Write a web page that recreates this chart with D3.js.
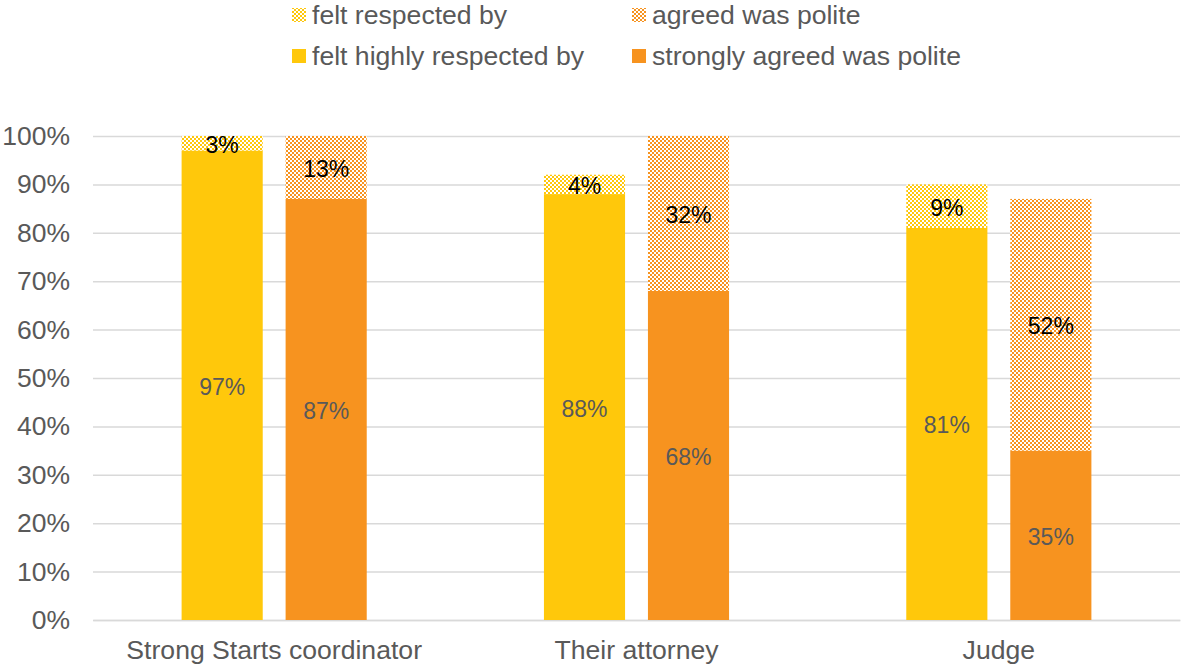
<!DOCTYPE html>
<html>
<head>
<meta charset="utf-8">
<script src="https://cdn.jsdelivr.net/npm/d3@7"></script>
<style>
  html, body { margin: 0; padding: 0; background: #fff; }
  svg { display: block; font-family: "Liberation Sans", Arial, sans-serif; }
</style>
</head>
<body>
<svg id="chart" width="1182" height="667"></svg>
<script>
// Survey results: share of respondents by who they dealt with
const categories = ["Strong Starts coordinator", "Their attorney", "Judge"];
const feltHighlyRespected = [97, 88, 81];
const feltRespected = [3, 4, 9];
const stronglyAgreedPolite = [87, 68, 35];
const agreedPolite = [13, 32, 52];
const yTicks = [0, 10, 20, 30, 40, 50, 60, 70, 80, 90, 100];

const YELLOW = "#FFC80B";
const ORANGE = "#F7931F";
const TEXT = "#595959";
const GRID = "#D9D9D9";

const svg = d3.select("#chart");
const plot = { left: 93, right: 1180, top: 136, bottom: 620 };

const x0 = d3.scaleBand().domain(categories).range([plot.left, plot.right]).padding(0);
const groups = ["respect", "polite"];
const x1 = d3.scaleBand().domain(groups).range([0, x0.bandwidth()])
  .paddingInner(0.22).paddingOuter(0.852);
const y = d3.scaleLinear().domain([0, 100]).range([plot.bottom, plot.top]);

// checkerboard fills for the lighter ("agreed"/"felt respected") segments
const defs = svg.append("defs");
function checker(id, color) {
  const p = defs.append("pattern").attr("id", id)
    .attr("width", 4).attr("height", 4).attr("patternUnits", "userSpaceOnUse");
  p.append("rect").attr("width", 4).attr("height", 4).attr("fill", "#fff");
  p.append("rect").attr("x", 0).attr("y", 0).attr("width", 2).attr("height", 2).attr("fill", color);
  p.append("rect").attr("x", 2).attr("y", 2).attr("width", 2).attr("height", 2).attr("fill", color);
}
checker("chkYellow", YELLOW);
checker("chkOrange", ORANGE);

// gridlines
const yAxis = d3.axisLeft(y).tickValues(yTicks).tickSize(-(plot.right - plot.left))
  .tickFormat(d => d + "%").tickPadding(23);
const gy = svg.append("g").attr("transform", `translate(${plot.left},0)`).call(yAxis);
gy.select(".domain").remove();
gy.selectAll(".tick line").attr("stroke", GRID).attr("stroke-width", 1.5);
gy.selectAll(".tick text").attr("fill", TEXT).attr("font-size", 26.5)
  .attr("font-family", "Liberation Sans, Arial, sans-serif");

// category axis
const xAxis = d3.axisBottom(x0).tickSize(0).tickPadding(20);
const gx = svg.append("g").attr("transform", `translate(0,${plot.bottom})`).call(xAxis);
gx.select(".domain").attr("stroke", GRID).attr("stroke-width", 1.5);
gx.selectAll(".tick text").attr("fill", TEXT).attr("font-size", 26.6)
  .attr("font-family", "Liberation Sans, Arial, sans-serif");

// stacked segments
const segments = [];
categories.forEach((c, i) => {
  segments.push({ cat: c, grp: "respect", base: 0, val: feltHighlyRespected[i], fill: YELLOW, label: TEXT });
  segments.push({ cat: c, grp: "respect", base: feltHighlyRespected[i], val: feltRespected[i], fill: "url(#chkYellow)", label: "#000" });
  segments.push({ cat: c, grp: "polite", base: 0, val: stronglyAgreedPolite[i], fill: ORANGE, label: TEXT });
  segments.push({ cat: c, grp: "polite", base: stronglyAgreedPolite[i], val: agreedPolite[i], fill: "url(#chkOrange)", label: "#000" });
});

const bars = svg.append("g");
bars.selectAll("rect").data(segments).join("rect")
  .attr("x", d => x0(d.cat) + x1(d.grp))
  .attr("width", x1.bandwidth())
  .attr("y", d => y(d.base + d.val))
  .attr("height", d => y(d.base) - y(d.base + d.val))
  .attr("fill", d => d.fill);

svg.append("g").selectAll("text").data(segments).join("text")
  .attr("x", d => x0(d.cat) + x1(d.grp) + x1.bandwidth() / 2)
  .attr("y", d => y(d.base + d.val / 2) + 1.5)
  .attr("text-anchor", "middle")
  .attr("dominant-baseline", "central")
  .attr("font-size", 23)
  .attr("fill", d => d.label)
  .text(d => d.val + "%");

// legend
const legendItems = [
  { text: "felt respected by", fill: "url(#chkYellow)", x: 292, y: 15 },
  { text: "agreed was polite", fill: "url(#chkOrange)", x: 632, y: 15 },
  { text: "felt highly respected by", fill: YELLOW, x: 292, y: 56 },
  { text: "strongly agreed was polite", fill: ORANGE, x: 632, y: 56 }
];
const lg = svg.append("g").selectAll("g").data(legendItems).join("g")
  .attr("transform", d => `translate(${d.x},${d.y})`);
lg.append("rect").attr("x", 0).attr("y", -7).attr("width", 14).attr("height", 14)
  .attr("fill", d => d.fill);
lg.append("text").attr("x", 20).attr("y", 0).attr("dominant-baseline", "central")
  .attr("font-size", 26.6).attr("fill", TEXT).text(d => d.text);
</script>
</body>
</html>
